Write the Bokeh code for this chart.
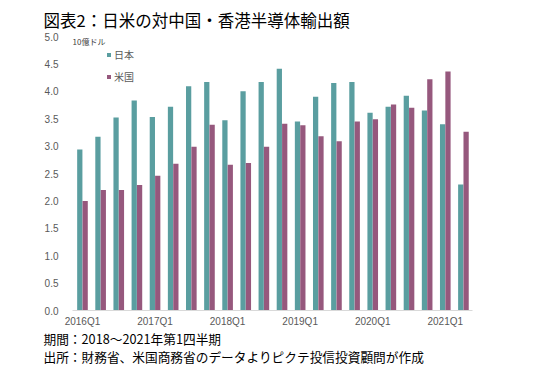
from bokeh.plotting import figure
from bokeh.models import (Range1d, FixedTicker, SingleIntervalTicker, NumeralTickFormatter,
                          ColumnDataSource, Label, Legend, LegendItem, Title)
from bokeh.transform import dodge
from bokeh.embed import file_html
from bokeh.resources import INLINE

quarters = ["2016Q1", "2016Q2", "2016Q3", "2016Q4", "2017Q1", "2017Q2", "2017Q3", "2017Q4",
            "2018Q1", "2018Q2", "2018Q3", "2018Q4", "2019Q1", "2019Q2", "2019Q3", "2019Q4",
            "2020Q1", "2020Q2", "2020Q3", "2020Q4", "2021Q1", "2021Q2"]
japan = [2.94, 3.17, 3.52, 3.83, 3.53, 3.72, 4.09, 4.17, 3.47, 4.00, 4.17, 4.41,
         3.45, 3.90, 4.15, 4.17, 3.61, 3.72, 3.92, 3.65, 3.40, 2.30]
usa = [2.00, 2.20, 2.20, 2.29, 2.46, 2.68, 2.99, 3.39, 2.66, 2.69, 2.99, 3.41,
       3.38, 3.18, 3.09, 3.45, 3.49, 3.76, 3.70, 4.22, 4.36, 3.26]
series_names = ["日本", "米国"]
tick_labels = ["2016Q1", "2017Q1", "2018Q1", "2019Q1", "2020Q1", "2021Q1"]
title_text = "図表2：日米の対中国・香港半導体輸出額"
unit_text = "10億ドル"
note1 = "期間：2018～2021年第1四半期"
note2 = "出所：財務省、米国商務省のデータよりピクテ投信投資顧問が作成"

JP_COLOR = "#5A9EA0"
US_COLOR = "#96587D"
TXT = "#595959"
CJK = "Noto Sans CJK JP"

idx = list(range(len(quarters)))
src = ColumnDataSource(dict(x=idx, q=quarters, japan=japan, usa=usa))

p = figure(width=542, height=366, output_backend="svg", toolbar_location=None,
           x_range=Range1d(-0.55, 21.5), y_range=Range1d(0, 5),
           min_border_left=72, min_border_right=70, min_border_top=36, min_border_bottom=56)
p.title = None
p.outline_line_color = None
p.xgrid.grid_line_color = None
p.ygrid.grid_line_color = None
p.background_fill_color = "white"
p.border_fill_color = "white"

r1 = p.vbar(x=dodge("x", -0.148, range=p.x_range), top="japan", width=0.29, source=src,
            fill_color=JP_COLOR, line_color=None)
r2 = p.vbar(x=dodge("x", 0.148, range=p.x_range), top="usa", width=0.29, source=src,
            fill_color=US_COLOR, line_color=None)

# axes
xa = p.xaxis[0]
xa.ticker = FixedTicker(ticks=[quarters.index(t) for t in tick_labels])
xa.major_label_overrides = {quarters.index(t): t for t in tick_labels}
xa.axis_line_color = "#D9D9D9"
xa.major_tick_line_color = None
xa.minor_tick_line_color = None
xa.major_tick_out = 0
xa.major_label_standoff = 5
xa.major_label_text_font = "Liberation Sans"
xa.major_label_text_font_size = "10px"
xa.major_label_text_color = TXT

ya = p.yaxis[0]
ya.ticker = SingleIntervalTicker(interval=0.5)
ya.formatter = NumeralTickFormatter(format="0.0")
ya.axis_line_color = None
ya.major_tick_line_color = None
ya.minor_tick_line_color = None
ya.major_tick_out = 0
ya.major_label_standoff = 10
ya.major_label_text_font = "Liberation Sans"
ya.major_label_text_font_size = "10px"
ya.major_label_text_color = TXT

legend = Legend(items=[LegendItem(label=series_names[0], renderers=[r1]),
                       LegendItem(label=series_names[1], renderers=[r2])],
                location=(34, 226), padding=0, margin=0, spacing=7,
                glyph_width=5, glyph_height=5, label_height=12, label_standoff=3,
                label_text_font=CJK, label_text_font_size="10px", label_text_color=TXT,
                border_line_color=None, background_fill_alpha=0)
p.add_layout(legend)

p.add_layout(Label(x=0, y=269, x_units="screen", y_units="screen", text=unit_text,
                   text_font=CJK, text_font_size="8px", text_color="#404040",
                   text_baseline="middle"))

t = Title(text=title_text, align="left", offset=-29, standoff=10,
          text_font=CJK, text_font_size="16.5px", text_font_style="normal", text_color="#000000")
p.add_layout(t, "above")
n1 = Title(text=note1, align="left", offset=-29, standoff=-6,
           text_font=CJK, text_font_size="12.7px", text_font_style="normal", text_color="#000000")
n2 = Title(text=note2, align="left", offset=-29, standoff=0,
           text_font=CJK, text_font_size="12.7px", text_font_style="normal", text_color="#000000")
p.add_layout(n1, "below")
p.add_layout(n2, "below")

open("out.html", "w").write(file_html(p, INLINE))
